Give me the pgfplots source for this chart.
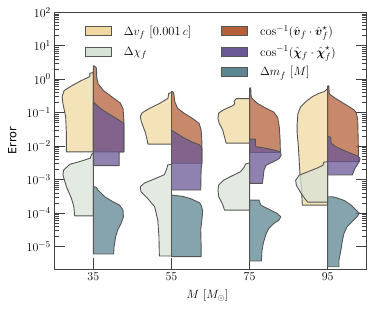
\documentclass[border=0pt]{standalone}
\usepackage{amsmath,amssymb}
\usepackage{fontspec}
\newfontfamily\dejavu{DejaVu Sans}
\usepackage{pgfplots}
\pgfplotsset{compat=1.18}
\definecolor{vfC}{RGB}{240,216,160}
\definecolor{chiC}{RGB}{216,227,216}
\definecolor{ovC}{RGB}{181,96,58}
\definecolor{ocC}{RGB}{106,88,150}
\definecolor{mC}{RGB}{94,134,145}
\definecolor{edgeC}{RGB}{85,85,85}
\pgfplotsset{vio/.style={draw=edgeC, line width=0.9pt, fill opacity=0.75, line join=round, forget plot, mark=none}}
\begin{document}
\begin{tikzpicture}
\begin{axis}[
  scale only axis, width=312.4pt, height=257pt,
  xmin=25, xmax=105, ymode=log, ymin=2.1e-6, ymax=100,
  xtick={35,55,75,95}, xtick pos=left,
  ytickten={-5,-4,-3,-2,-1,0,1,2},
  tick align=inside,
  major tick length=11pt, minor tick length=5pt,
  axis line style={black!75, line width=0.8pt},
  every tick/.style={black!75, line width=0.6pt},
  tick label style={font=\fontsize{12.5}{14}\selectfont},
  xlabel={$M\ [M_\odot]$},
  ylabel={\dejavu Error},
  xlabel style={font=\fontsize{12}{14}\selectfont, at={(axis description cs:0.49,-0.101)}, anchor=center},
  ylabel style={font=\fontsize{11.3}{13}\selectfont, at={(axis description cs:-0.1345,0.5)}, anchor=center},
  legend columns=2,
  legend cell align=left,
  legend image code/.code={\draw[#1] (0pt,-4.5pt) rectangle (26pt,4.5pt);},
  legend style={draw=none, fill=none, at={(axis description cs:0.098,0.958)}, anchor=north west,
    font=\fontsize{12.5}{14}\selectfont, inner sep=0pt, row sep=5pt,
    /tikz/every even column/.append style={column sep=28pt},
    /tikz/every odd column/.append style={column sep=10pt}},
]
% ---- legend ----
\addlegendimage{fill=vfC, draw=edgeC, line width=0.8pt}
\addlegendentry{$\Delta v_f$ [0.001\,$c$]}
\addlegendimage{fill=ovC, draw=edgeC, line width=0.8pt}
\addlegendentry{$\cos^{-1}(\hat{\boldsymbol{v}}_f\cdot\hat{\boldsymbol{v}}_f^{\star})$}
\addlegendimage{fill=chiC, draw=edgeC, line width=0.8pt}
\addlegendentry{$\Delta \chi_f$}
\addlegendimage{fill=ocC, draw=edgeC, line width=0.8pt}
\addlegendentry{$\cos^{-1}(\hat{\boldsymbol{\chi}}_f\cdot\hat{\boldsymbol{\chi}}_f^{\star})$}
\addlegendimage{empty legend}
\addlegendentry{}
\addlegendimage{fill=mC, draw=edgeC, line width=0.8pt}
\addlegendentry{$\Delta m_f$ [$M$]}
% ---- M = 35 ----
\addplot[vio, fill=vfC] coordinates {(35,1.585) (34.1,1.514) (34.1,1.202) (31.9,0.912) (29.4,0.631) (27.5,0.457) (27.0,0.302) (27.2,0.1905) (27.9,0.0759) (28.1,0.0240) (28.1,0.00676) (35,0.00676) (35,1.585)};
\addplot[vio, fill=chiC] coordinates {(35,6.17e-3) (34.6,5.89e-3) (34.2,4.37e-3) (31.5,3.47e-3) (29.0,2.88e-3) (27.4,1.95e-3) (27.2,1.38e-3) (28.1,6.17e-4) (29.4,2.75e-4) (30.0,1.55e-4) (30.2,8.32e-5) (35,8.32e-5) (35,6.17e-3)};
\addplot[vio, fill=ovC] coordinates {(35,2.512) (35.3,2.512) (35.8,2.138) (35.85,1.175) (36.2,0.741) (37.5,0.468) (40.0,0.282) (41.9,0.195) (42.6,0.132) (42.8,0.0661) (42.8,0.00676) (35,0.00676) (35,2.512)};
\addplot[vio, fill=ocC] coordinates {(35,0.1995) (35.2,0.1995) (35.8,0.1698) (37.1,0.1259) (39.2,0.0891) (41.3,0.0631) (42.8,0.0479) (42.8,0.00676) (41.6,0.00676) (41.6,0.00263) (35,0.00263) (35,0.1995)};
\addplot[vio, fill=mC] coordinates {(35,6.17e-4) (35.2,6.17e-4) (35.8,5.89e-4) (36.2,4.90e-4) (37.9,3.09e-4) (40.0,2.19e-4) (41.7,1.74e-4) (42.6,1.23e-4) (42.7,7.76e-5) (42.1,4.90e-5) (41.2,3.09e-5) (40.7,1.95e-5) (40.3,9.77e-6) (40.2,6.03e-6) (35,6.03e-6) (35,6.17e-4)};
% ---- M = 55 ----
\addplot[vio, fill=vfC] coordinates {(55,0.398) (54.3,0.380) (54.1,0.269) (52.0,0.1905) (49.4,0.1349) (47.5,0.1) (47.0,0.0759) (47.3,0.0537) (48.4,0.0240) (49.0,0.01148) (55,0.01148) (55,0.398)};
\addplot[vio, fill=chiC] coordinates {(55,2.88e-3) (54.0,2.75e-3) (53.9,2.29e-3) (53.2,1.41e-3) (50.2,1e-3) (48.1,7.94e-4) (47.0,6.17e-4) (47.2,4.37e-4) (48.9,2.75e-4) (50.7,1.55e-4) (51.5,6.17e-5) (51.8,2.00e-5) (51.9,5.25e-6) (55,5.25e-6) (55,2.88e-3)};
\addplot[vio, fill=ovC] coordinates {(55,0.427) (55.3,0.427) (55.6,0.380) (55.7,0.302) (55.85,0.214) (56.6,0.1349) (58.3,0.0955) (60.4,0.0676) (62.1,0.0479) (62.6,0.0302) (62.8,0.01349) (62.8,0.00309) (55,0.00309) (55,0.427)};
\addplot[vio, fill=ocC] coordinates {(55,0.0295) (55.5,0.0282) (56.2,0.0245) (57.9,0.0186) (60.0,0.0138) (62.2,0.01096) (62.8,0.00871) (62.8,0.00316) (62.6,0.00200) (62.5,4.90e-4) (55,4.90e-4) (55,0.0295)};
\addplot[vio, fill=mC] coordinates {(55,3.47e-4) (55.8,3.39e-4) (57.9,3.16e-4) (60.0,2.69e-4) (62.2,2.04e-4) (62.7,1.62e-4) (63.0,1.15e-4) (62.8,6.46e-5) (62.5,3.24e-5) (62.6,1.02e-5) (62.6,5.01e-6) (55,5.01e-6) (55,3.47e-4)};
% ---- M = 75 ----
\addplot[vio, fill=vfC] coordinates {(75,0.263) (71.6,0.263) (71.0,0.219) (71.2,0.186) (70.7,0.162) (68.4,0.123) (67.1,0.0977) (66.9,0.0692) (67.2,0.0490) (68.1,0.0309) (68.9,0.0138) (69.0,0.0123) (75,0.0123) (75,0.263)};
\addplot[vio, fill=chiC] coordinates {(75,3.16e-3) (74.0,2.95e-3) (73.6,2.34e-3) (72.7,1.74e-3) (70.1,1.23e-3) (68.4,9.77e-4) (67.1,6.92e-4) (66.9,4.90e-4) (67.1,3.09e-4) (68.0,1.95e-4) (68.6,1.23e-4) (75,1.23e-4) (75,3.16e-3)};
\addplot[vio, fill=ovC] coordinates {(75,0.550) (75.3,0.550) (75.4,0.302) (75.7,0.263) (77.0,0.1905) (79.1,0.138) (81.2,0.1047) (82.2,0.0724) (82.6,0.0389) (82.8,0.0174) (82.9,0.00646) (75,0.00646) (75,0.550)};
\addplot[vio, fill=ocC] coordinates {(75,0.0162) (76.5,0.0162) (76.5,0.00977) (79.0,0.00871) (81.5,0.00759) (82.9,0.00676) (83.1,0.00537) (82.6,0.00427) (81.0,0.00339) (79.2,0.00269) (78.7,0.00191) (78.5,0.00120) (78.3,7.76e-4) (75,7.76e-4) (75,0.0162)};
\addplot[vio, fill=mC] coordinates {(75,2.45e-4) (77.4,2.45e-4) (77.6,2.19e-4) (77.8,1.78e-4) (78.7,1.55e-4) (80.4,1.23e-4) (82.1,9.77e-5) (83.0,7.76e-5) (82.5,6.17e-5) (81.2,4.90e-5) (79.9,3.47e-5) (79.1,2.19e-5) (78.5,1.23e-5) (78.2,7.76e-6) (78.0,3.72e-6) (75,3.72e-6) (75,2.45e-4)};
% ---- M = 95 ----
\addplot[vio, fill=vfC] coordinates {(95,0.525) (94.1,0.427) (92.8,0.380) (91.1,0.302) (89.4,0.214) (88.1,0.1514) (87.4,0.0955) (87.2,0.0479) (87.2,0.0240) (87.5,0.00977) (87.7,0.00389) (87.9,0.00155) (88.3,6.17e-4) (88.5,1.74e-4) (95,1.74e-4) (95,0.525)};
\addplot[vio, fill=chiC] coordinates {(95,3.47e-3) (94.0,3.31e-3) (93.8,2.69e-3) (92.4,2.24e-3) (89.8,1.70e-3) (87.7,1.35e-3) (86.8,9.55e-4) (87.0,6.76e-4) (88.0,4.27e-4) (89.3,2.57e-4) (89.9,2.14e-4) (95,2.14e-4) (95,3.47e-3)};
\addplot[vio, fill=ovC] coordinates {(95,0.631) (95.3,0.631) (95.4,0.380) (95.8,0.339) (97.0,0.269) (98.8,0.1995) (100.5,0.1514) (101.8,0.1202) (102.4,0.0955) (102.7,0.0603) (102.8,0.0191) (102.9,0.00603) (102.9,0.00347) (95,0.00347) (95,0.631)};
\addplot[vio, fill=ocC] coordinates {(95,0.0195) (95.8,0.0186) (95.9,0.0123) (97.0,0.00977) (99.2,0.00741) (101.3,0.00589) (102.6,0.00513) (103.3,0.00437) (103.1,0.00347) (102.0,0.00219) (101.3,0.00138) (95,0.00138) (95,0.0195)};
\addplot[vio, fill=mC] coordinates {(95,3.09e-4) (96.2,3.09e-4) (97.5,2.82e-4) (99.2,2.40e-4) (100.9,1.78e-4) (102.2,1.26e-4) (103.1,1e-4) (102.6,7.94e-5) (101.3,5.62e-5) (100.0,3.98e-5) (99.2,2.51e-5) (98.8,1.585e-5) (98.4,7.94e-6) (97.9,3.98e-6) (97.9,2.51e-6) (95,2.51e-6) (95,3.09e-4)};
\end{axis}
\pgfresetboundingbox
\path (current axis.south west) ++(-54.3pt,-42.7pt) coordinate (bl);
\path (current axis.north east) ++(7.3pt,12.3pt) coordinate (tr);
\path (bl) rectangle (tr);
\end{tikzpicture}
\end{document}
